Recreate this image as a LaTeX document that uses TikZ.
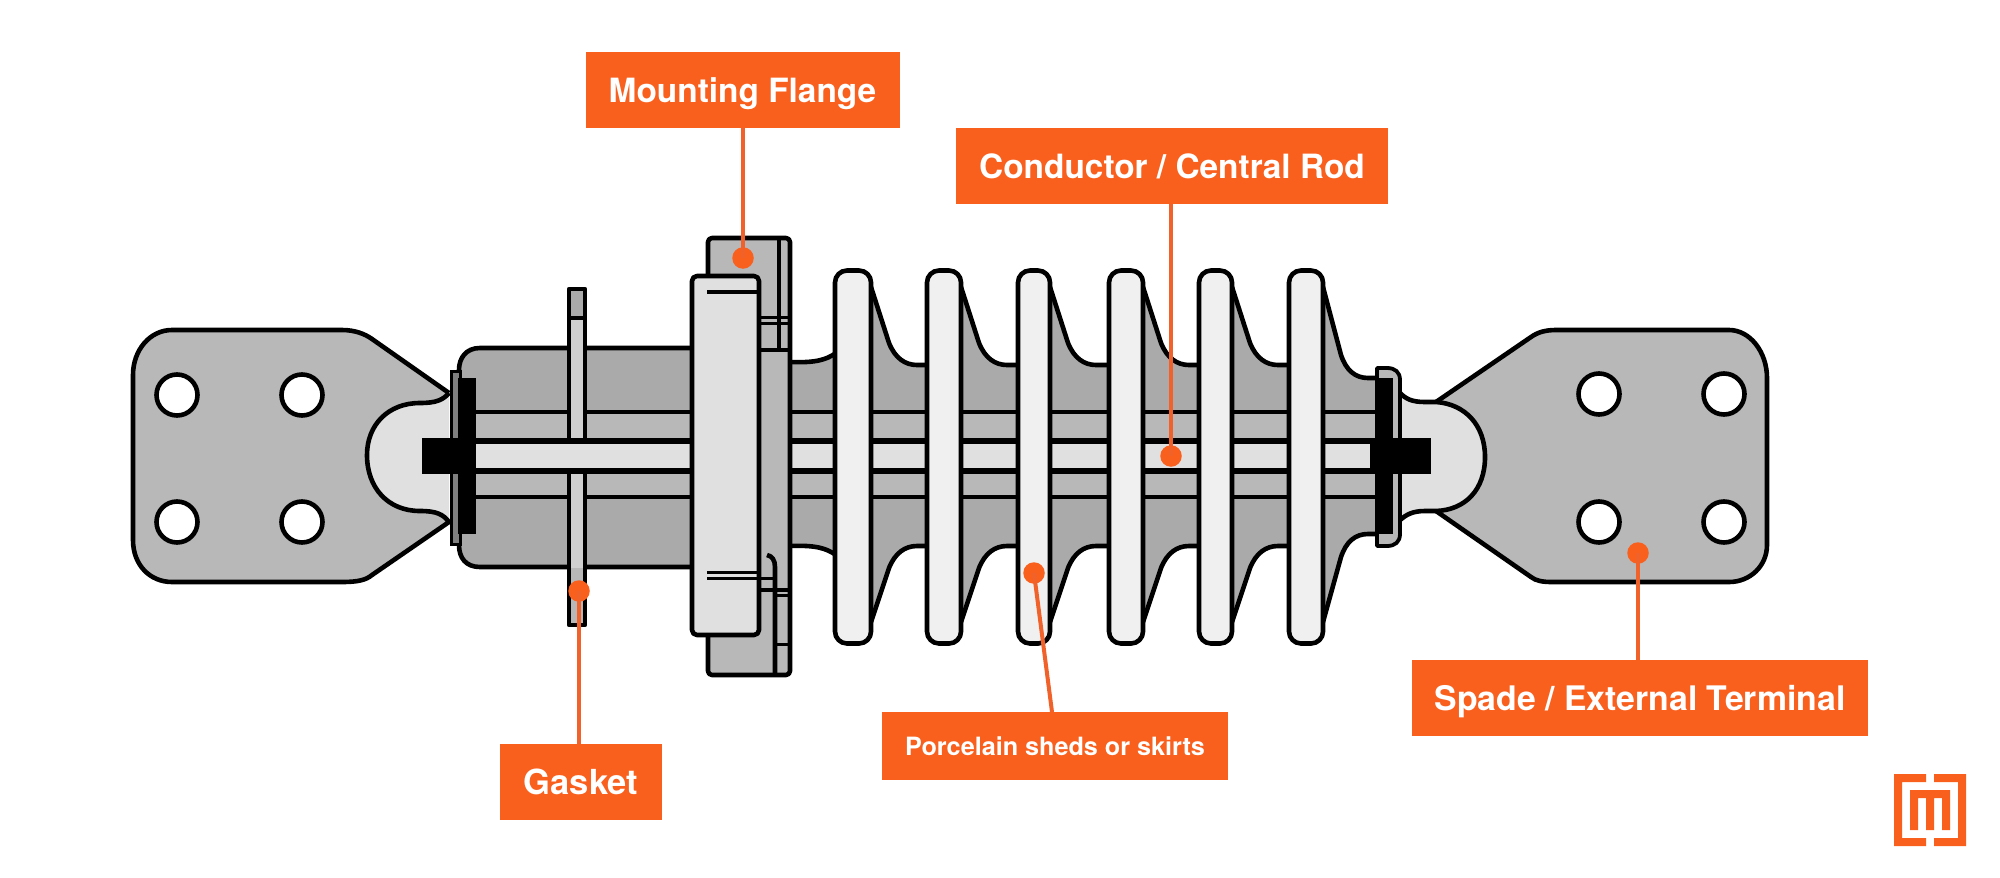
\documentclass[tikz,border=0pt]{standalone}
\usepackage{fontspec}
\setmainfont{TeX Gyre Heros}
\definecolor{orng}{HTML}{F9601E}
\definecolor{lead}{HTML}{F0622A}
\definecolor{gA}{HTML}{AAAAAA}
\definecolor{gB}{HTML}{B8B8B8}
\definecolor{gC}{HTML}{E0E0E0}
\definecolor{gD}{HTML}{F0F0F0}
\definecolor{gE}{HTML}{D0D0D0}
\definecolor{gF}{HTML}{808080}
\tikzset{
  ln/.style={draw=black,line width=4.6pt,line join=round},
  thin3/.style={draw=black,line width=3.8pt},
  label box/.style={fill=orng,text=white,inner sep=0pt,text depth=0pt,font=\bfseries\fontsize{33.4}{36}\selectfont,anchor=center},
  pin/.style={circle,fill=orng,inner sep=0pt,minimum size=21.5pt},
  leader/.style={draw=lead,line width=4pt},
  holes/.style={ln,fill=white}
}
\begin{document}
\begin{tikzpicture}[x=1pt,y=-1pt]
\useasboundingbox (0,0) rectangle (2000,878);
\fill[white] (0,0) rectangle (2000,878);
% left spade
\fill[gC] (449,393) .. controls (443,400) and (436,403) .. (420,403) .. controls (388,403) and (367,425) .. (367,455) .. controls (367,488) and (388,511) .. (420,511) .. controls (436,511) and (443,514) .. (449,522) -- cycle;
\draw[ln,fill=gB] (449,393) -- (372,339) .. controls (365,334) and (355,330) .. (342,330) -- (172,330) .. controls (150,330) and (133,350) .. (133,375) -- (133,540) .. controls (133,565) and (150,582) .. (172,582) -- (342,582) .. controls (358,582) and (366,580) .. (372,575) -- (449,522) .. controls (443,514) and (436,511) .. (420,511) .. controls (388,511) and (367,488) .. (367,455) .. controls (367,425) and (388,403) .. (420,403) .. controls (436,403) and (443,400) .. (449,393);
\foreach \px/\py in {177/395,302/395,177/522,302/522}
  \draw[holes] (\px,\py) circle[radius=20.5];
% left body
\draw[ln,fill=gA] (700,348) -- (480,348) .. controls (466,348) and (459,358) .. (459,370) -- (459,545) .. controls (459,558) and (466,567) .. (480,567) -- (700,567);
% right body
\fill[gA] (790,362) .. controls (815,363) and (826,360) .. (836,353) -- (836,555) .. controls (826,548) and (815,545) .. (790,546) -- cycle;
\draw[ln] (790,362) .. controls (815,363) and (826,360) .. (836,353);
\draw[ln] (790,546) .. controls (815,545) and (826,548) .. (836,555);
\foreach \rr/\ll in {871/927,961/1018,1050/1109,1143/1199,1232/1289}{
  \fill[gA] (\rr,287) -- ({\rr+18},343) .. controls ({\rr+24},358) and ({\rr+34},365) .. ({\rr+46},365) -- (\ll,365) -- (\ll,546) -- ({\rr+46},546) .. controls ({\rr+34},546) and ({\rr+24},553) .. ({\rr+18},568) -- (\rr,622) -- cycle;
  \draw[ln] (\rr,287) -- ({\rr+18},343) .. controls ({\rr+24},358) and ({\rr+34},365) .. ({\rr+46},365) -- (\ll,365);
  \draw[ln] (\rr,622) -- ({\rr+18},568) .. controls ({\rr+24},553) and ({\rr+34},546) .. ({\rr+46},546) -- (\ll,546);
}
\fill[gA] (1323,287) -- (1341,355) .. controls (1346,370) and (1355,378) .. (1368,378) -- (1378,378) -- (1378,534) -- (1368,534) .. controls (1355,534) and (1346,542) .. (1341,557) -- (1323,622) -- cycle;
\draw[ln] (1323,287) -- (1341,355) .. controls (1346,370) and (1355,378) .. (1368,378) -- (1378,378);
\draw[ln] (1323,622) -- (1341,557) .. controls (1346,542) and (1355,534) .. (1368,534) -- (1378,534);
% inner band
\fill[gB] (476,412) rectangle (1376,497);
\draw[thin3] (476,412) -- (1376,412);
\draw[thin3] (476,497) -- (1376,497);
% gasket
\fill[gE] (569,289) rectangle (585,625);
\fill[gA] (569,289) rectangle (585,318);
\fill[gB] (569,568) rectangle (585,625);
\draw[ln] (569,289) rectangle (585,625);
\draw[thin3] (569,318) -- (585,318);
% rod
\fill[gC] (476,444) rectangle (1376,468);
\fill[black] (476,438) rectangle (1376,444);
\fill[black] (476,468) rectangle (1376,474);
% back flange
\draw[ln,fill=gB,rounded corners=4pt] (708,238) rectangle (790,675);
\draw[ln] (779,238) -- (779,350);
\draw[line width=3pt] (760,317) -- (788,317);
\draw[line width=3pt] (760,323) -- (788,323);
\draw[ln] (760,350) -- (788,350);
\draw[ln] (767,555) .. controls (772,556) and (775,560) .. (775,567) -- (775,675);
\draw[line width=3pt] (760,578) -- (775,578);
\draw[ln] (760,590) -- (788,590);
\draw[line width=3pt] (775,595) -- (788,595);
\draw[line width=3pt] (775,644) -- (788,644);
% front flange
\draw[ln,fill=gC,rounded corners=5pt] (692,276) rectangle (759,635);
\draw[ln] (707,292) -- (757,292);
\draw[line width=3pt] (707,572) -- (757,572);
\draw[line width=3pt] (707,578) -- (757,578);
% sheds
\foreach \ax/\bx in {835/871,927/961,1018/1050,1109/1143,1199/1232,1289/1323}
  \draw[ln,fill=gD,rounded corners=12pt] (\ax,270.5) rectangle (\bx,643.5);
% left end plates
\draw[draw=black,line width=3pt,fill=gF] (451,371.5) rectangle (460,544.5);
\fill[black] (458,378) rectangle (476,534);
\fill[black] (422,438) rectangle (476,474);
% right spade
\draw[ln,fill=gB] (1436,402) -- (1531,337) .. controls (1538,332) and (1546,330) .. (1556,330) -- (1729,330) .. controls (1750,330) and (1767,352) .. (1767,378) -- (1767,545) .. controls (1767,566) and (1750,582) .. (1729,582) -- (1552,582) .. controls (1543,582) and (1536,581) .. (1531,577) -- (1436,511) -- cycle;
\foreach \px/\py in {1599/394,1724/394,1599/522,1724/522}
  \draw[holes] (\px,\py) circle[radius=20.5];
\draw[ln,fill=gC] (1400,393) .. controls (1406,399) and (1412,402) .. (1425,402) -- (1436,402) .. controls (1465,404) and (1485,425) .. (1485,457) .. controls (1485,490) and (1465,510) .. (1436,511) -- (1425,511) .. controls (1412,511) and (1406,515) .. (1400,520);
% right cap
\draw[ln,line width=3.8pt,fill=gB] (1377,368) -- (1387,368) .. controls (1395,368) and (1400,372) .. (1400,380) -- (1400,534) .. controls (1400,542) and (1395,546) .. (1387,546) -- (1377,546) -- cycle;
\fill[black] (1375,378) rectangle (1393,534);
\fill[black] (1370,438) rectangle (1431,474);
% labels
\node[label box,minimum width=314pt,minimum height=76pt] (mf) at (742.5,90) {Mounting Flange};
\node[label box,minimum width=432pt,minimum height=76pt] (cr) at (1172,166) {Conductor / Central Rod};
\node[label box,minimum width=162pt,minimum height=76pt,font=\bfseries\fontsize{34.5}{36}\selectfont] (gk) at (581,782) {Gasket};
\node[label box,minimum width=346pt,minimum height=68pt,font=\bfseries\fontsize{25.2}{28}\selectfont] (ps) at (1055,746) {Porcelain sheds or skirts};
\node[label box,minimum width=456pt,minimum height=76pt,font=\bfseries\fontsize{33.8}{36}\selectfont] (st) at (1640,698) {Spade / External Terminal};
\node[pin] (pmf) at (743,258) {};
\node[pin] (pcr) at (1171,456) {};
\node[pin] (pgk) at (579,591) {};
\node[pin] (pps) at (1034,573) {};
\node[pin] (pst) at (1638,553) {};
\coordinate (eps) at (1052,712);
\draw[leader] (pmf.center) -- (pmf.center |- mf.south);
\draw[leader] (pcr.center) -- (pcr.center |- cr.south);
\draw[leader] (pgk.center) -- (pgk.center |- gk.north);
\draw[leader] (pps.center) -- (eps);
\draw[leader] (pst.center) -- (pst.center |- st.north);
% logo
\fill[orng] (1926,774) -- (1894,774) -- (1894,846) -- (1926,846) -- (1926,838) -- (1902,838) -- (1902,782) -- (1926,782) -- cycle;
\fill[orng] (1934,774) -- (1966,774) -- (1966,846) -- (1934,846) -- (1934,838) -- (1958,838) -- (1958,782) -- (1934,782) -- cycle;
\fill[orng] (1910,830) -- (1910,790) -- (1950,790) -- (1950,830) -- (1942,830) -- (1942,798) -- (1934,798) -- (1934,830) -- (1926,830) -- (1926,798) -- (1918,798) -- (1918,830) -- cycle;
\end{tikzpicture}
\end{document}
